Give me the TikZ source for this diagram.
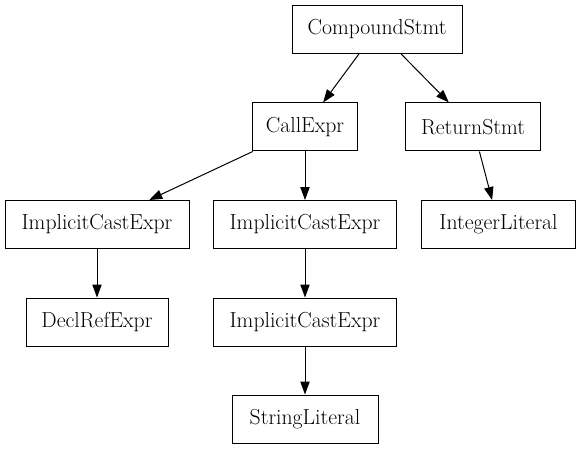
\documentclass[tikz,border=0pt]{standalone}
\usetikzlibrary{arrows.meta}
\begin{document}
\begin{tikzpicture}[x=0.75pt,y=-0.75pt,
  box/.style={draw,line width=0.75pt,minimum height=36pt,inner sep=0pt,font=\fontsize{16.3}{19}\selectfont},
  edge/.style={line width=0.75pt,-{Triangle[length=9.75pt,width=7pt]}}]
\useasboundingbox (0,0) rectangle (581,449);
\node[box,minimum width=127.5pt] (cs) at (377,29.5) {CompoundStmt};
\node[box,minimum width=78.75pt] (ce) at (305,127) {CallExpr};
\node[box,minimum width=101.5pt] (rs) at (473,127) {ReturnStmt};
\node[box,minimum width=138pt] (ice1) at (97,224.5) {ImplicitCastExpr};
\node[box,minimum width=137.5pt] (ice2) at (305,224.5) {ImplicitCastExpr};
\node[box,minimum width=116pt] (il) at (498.5,224.5) {IntegerLiteral};
\node[box,minimum width=106.5pt] (dre) at (97,322) {DeclRefExpr};
\node[box,minimum width=137.5pt] (ice3) at (305,322) {ImplicitCastExpr};
\node[box,minimum width=109.5pt] (sl) at (305,419) {StringLiteral};
\draw[edge] (cs) -- (ce);
\draw[edge] (cs) -- (rs);
\draw[edge] (ce) -- (ice1);
\draw[edge] (ce) -- (ice2);
\draw[edge] (rs) -- (il);
\draw[edge] (ice1) -- (dre);
\draw[edge] (ice2) -- (ice3);
\draw[edge] (ice3) -- (sl);
\end{tikzpicture}
\end{document}
